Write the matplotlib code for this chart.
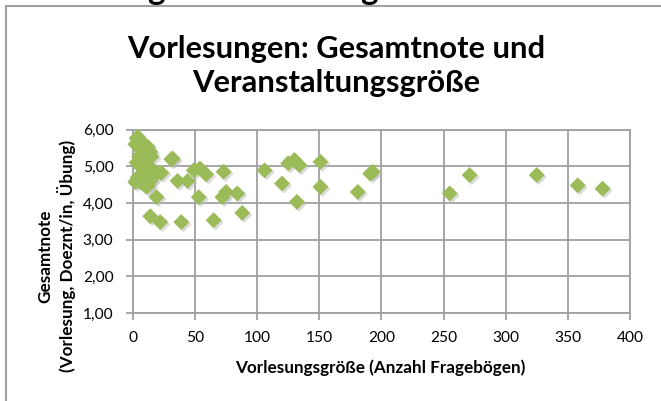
import matplotlib.pyplot as plt
import matplotlib.transforms as mtransforms
from matplotlib.ticker import FuncFormatter
import numpy as np

plt.rcParams['font.family'] = ['Lato', 'DejaVu Sans']

# size of the lecture (number of questionnaires) vs overall grade
groesse = [3, 4, 7, 6, 12, 14, 5, 6, 15, 32, 31, 8, 23, 3, 2, 12, 11, 19, 36, 44,
           49, 54, 59, 73, 53, 72, 75, 84, 88, 14, 22, 39, 65,
           2, 5, 8, 10, 3, 6, 9, 12, 4, 7, 14, 16, 18, 10, 13,
           106, 120, 125, 130, 134, 132, 151, 151, 181, 191, 193,
           255, 271, 325, 358, 378]
note = [5.76, 5.8, 5.67, 5.3, 5.53, 5.39, 5.26, 5.26, 5.26, 5.21, 5.19, 5.03, 4.82, 4.62, 4.57, 4.48, 4.44, 4.16, 4.6, 4.6,
        4.89, 4.94, 4.78, 4.85, 4.16, 4.16, 4.3, 4.26, 3.73, 3.64, 3.48, 3.48, 3.53,
        5.6, 5.5, 5.45, 5.4, 5.1, 5.0, 4.9, 4.8, 4.7, 4.55, 4.6, 4.7, 4.85, 5.15, 5.0,
        4.89, 4.53, 5.08, 5.17, 5.03, 4.03, 5.12, 4.44, 4.3, 4.8, 4.85,
        4.26, 4.76, 4.76, 4.48, 4.39]

fig = plt.figure(figsize=(6.61, 4.01), dpi=100)
ax = fig.add_axes([0.201, 0.219, 0.752, 0.458])

grau = '#a0a0a0'
gruen = '#9bbb59'

# drop shadow for the diamonds
shadow = mtransforms.offset_copy(ax.transData, fig=fig, x=1.5, y=-1.5, units='points')
ax.scatter(groesse, note, marker='D', s=66, color='#b8b8b8', alpha=0.5,
           edgecolors='none', transform=shadow, zorder=2, clip_on=False)
ax.scatter(groesse, note, marker='D', s=66, color=gruen, edgecolors='none',
           zorder=3, clip_on=False)

ax.set_xlim(0, 400)
ax.set_ylim(1, 6)
ax.set_xticks(np.arange(0, 401, 50))
ax.set_yticks(np.arange(1, 6.01, 1))
ax.yaxis.set_major_formatter(FuncFormatter(lambda v, p: f'{v:.2f}'.replace('.', ',')))
ax.grid(True, color=grau, linewidth=1.3)
ax.set_axisbelow(True)
for s in ax.spines.values():
    s.set_color(grau)
    s.set_linewidth(1.3)
ax.tick_params(colors=grau, labelcolor='black', labelsize=11.2, length=5, width=1.3)
ax.tick_params(axis='x', pad=8)
ax.tick_params(axis='y', pad=9)

fig.text(0.575, 0.0823, 'Vorlesungsgröße (Anzahl Fragebögen)', fontsize=12.3,
         fontweight='bold', ha='center', va='center')
fig.text(0.068, 0.362, 'Gesamtnote', rotation=90, fontsize=12.3, fontweight='bold',
         ha='center', va='center')
fig.text(0.101, 0.362, '(Vorlesung, Doeznt/in, Übung)', rotation=90, fontsize=12.3,
         fontweight='bold', ha='center', va='center')

fig.text(0.509, 0.8546, 'Vorlesungen: Gesamtnote und', fontsize=22.2, fontweight='bold',
         ha='center', va='baseline')
fig.text(0.509, 0.7713, 'Veranstaltungsgröße', fontsize=22.2, fontweight='bold',
         ha='center', va='baseline')

# frame of the chart (only top and left edge are visible)
fig.add_artist(plt.Line2D([0.0098, 0.0098], [0, 0.985], color=grau, linewidth=1.5))
fig.add_artist(plt.Line2D([0.0098, 1], [0.985, 0.985], color=grau, linewidth=1.5))

# descenders of the heading above the chart
fig.text(0.236, 1.0, 'g', fontsize=24, fontweight='bold', ha='center', va='baseline')
fig.text(0.559, 1.0, 'g', fontsize=24, fontweight='bold', ha='center', va='baseline')

fig.savefig('out.png', dpi=100)
